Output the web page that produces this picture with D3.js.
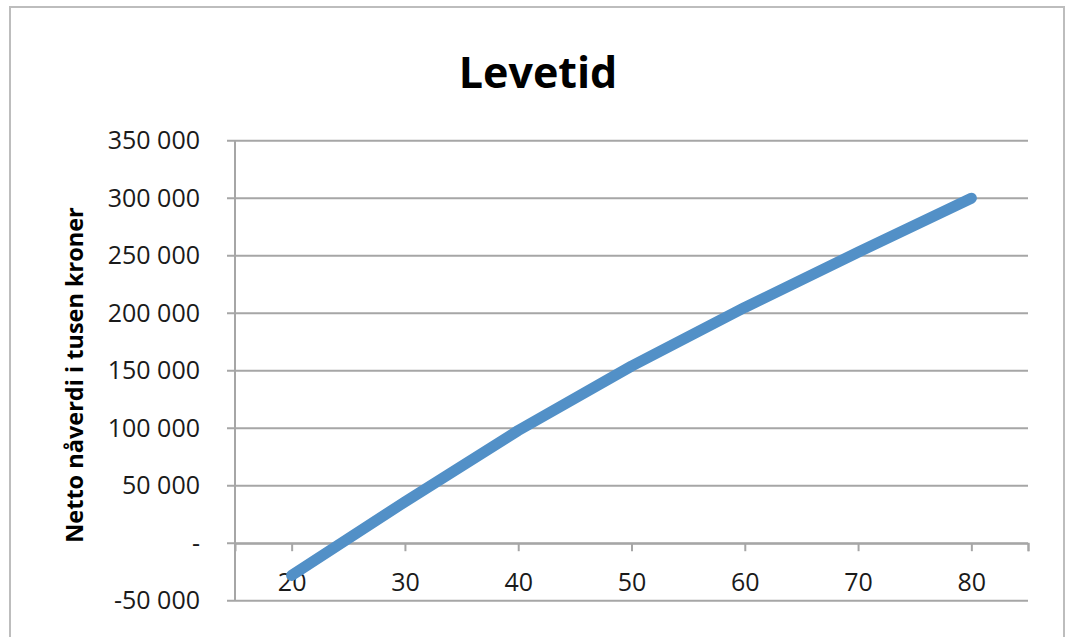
<!DOCTYPE html>
<html>
<head>
<meta charset="utf-8">
<script src="https://cdn.jsdelivr.net/npm/d3@7"></script>
<style>
  html, body { margin: 0; padding: 0; background: #fff; }
  svg { display: block; }
</style>
</head>
<body>
<svg id="chart" width="1066" height="637"></svg>
<script>
const title = "Levetid";
const yAxisTitle = "Netto nåverdi i tusen kroner";
const ages = [20, 30, 40, 50, 60, 70, 80];
const values = [-28000, 36000, 98000, 154000, 205000, 253000, 300000];
const yTicks = [-50000, 0, 50000, 100000, 150000, 200000, 250000, 300000, 350000];
const xTicks = [20, 30, 40, 50, 60, 70, 80];

const svg = d3.select("#chart");
const font = "'Open Sans', 'DejaVu Sans', sans-serif";
const gridColor = "#a6a6a6";

// chart border
svg.append("rect")
  .attr("x", 10).attr("y", 7).attr("width", 1054).attr("height", 640)
  .attr("fill", "#fff").attr("stroke", "#bdbdbd").attr("stroke-width", 2);

const x = d3.scaleLinear().domain([15, 85]).range([235, 1028]);
const y = d3.scaleLinear().domain([-50000, 350000]).range([600.7, 140.7]);

const fmt = v => v === 0 ? "-" : d3.format(",")(v).replace(/,/g, " ").replace("\u2212", "-");

// gridlines
svg.append("g").selectAll("line").data(yTicks).join("line")
  .attr("x1", x(15) - 8).attr("x2", x(85))
  .attr("y1", d => y(d)).attr("y2", d => y(d))
  .attr("stroke", gridColor).attr("stroke-width", 2);

// y axis line
svg.append("line")
  .attr("x1", x(15)).attr("x2", x(15))
  .attr("y1", y(350000)).attr("y2", y(-50000))
  .attr("stroke", gridColor).attr("stroke-width", 2);

// y tick labels
svg.append("g").selectAll("text").data(yTicks).join("text")
  .attr("x", 200).attr("y", d => y(d))
  .attr("dy", "0.35em")
  .attr("text-anchor", "end")
  .attr("font-family", font).attr("font-size", 25)
  .attr("fill", "#1a1a1a")
  .text(fmt);

// x axis at zero
const xAxis = d3.axisBottom(x)
  .tickValues(xTicks.concat([85]))
  .tickSize(8)
  .tickFormat(d => xTicks.includes(d) ? d : "");
const gx = svg.append("g").attr("transform", `translate(0,${y(0)})`).call(xAxis);
gx.select(".domain").attr("stroke", gridColor).attr("stroke-width", 2);
gx.selectAll(".tick line").attr("stroke", gridColor).attr("stroke-width", 2);
gx.selectAll(".tick text")
  .attr("y", 39).attr("dy", "0.35em")
  .attr("font-family", font).attr("font-size", 25)
  .attr("fill", "#1a1a1a");

// series line
const line = d3.line().x((d, i) => x(ages[i])).y(d => y(d));
svg.append("path")
  .datum(values)
  .attr("d", line)
  .attr("fill", "none")
  .attr("stroke", "#5290c7")
  .attr("stroke-width", 11)
  .attr("stroke-linecap", "round")
  .attr("stroke-linejoin", "round");

// title
svg.append("text")
  .attr("x", 538).attr("y", 88)
  .attr("text-anchor", "middle")
  .attr("font-family", font).attr("font-weight", "bold").attr("font-size", 43)
  .attr("fill", "#000")
  .text(title);

// y axis title
svg.append("text")
  .attr("transform", `translate(83,375) rotate(-90)`)
  .attr("text-anchor", "middle")
  .attr("font-family", font).attr("font-weight", "bold").attr("font-size", 23.5)
  .attr("fill", "#000")
  .text(yAxisTitle);
</script>
</body>
</html>
